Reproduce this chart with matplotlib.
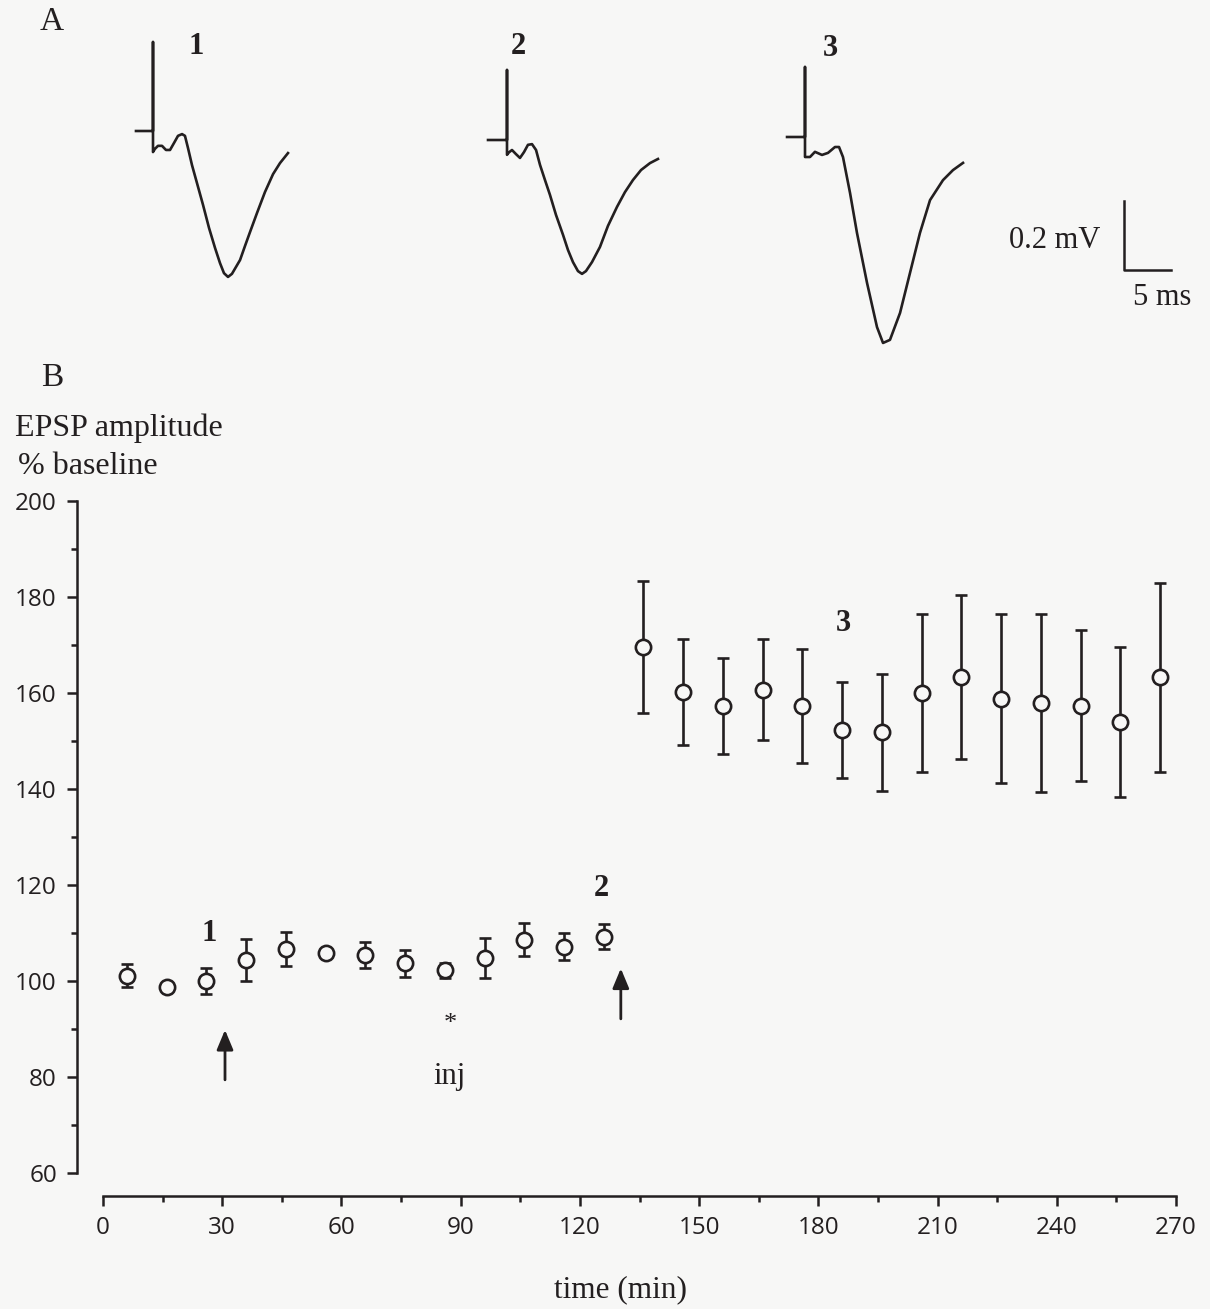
import matplotlib
matplotlib.use("Agg")
import matplotlib.pyplot as plt
import numpy as np

# ---------- Data ----------
# panel B: EPSP amplitude (% baseline) vs time (min)
time_min = [6, 16, 26, 36, 46, 56, 66, 76, 86, 96, 106, 116, 126,
            136, 146, 156, 166, 176, 186, 196, 206, 216, 226, 236, 246, 256, 266]
epsp_mean = [101.1, 98.8, 99.9, 104.4, 106.6, 105.8, 105.3, 103.7, 102.2, 104.8, 108.6, 107.1, 109.2,
             169.5, 160.1, 157.3, 160.6, 157.2, 152.3, 151.8, 160.0, 163.3, 158.8, 157.9, 157.3, 153.9, 163.2]
epsp_sem = [2.4, 0.8, 2.7, 4.4, 3.5, 0.9, 2.7, 2.8, 1.6, 4.2, 3.5, 2.8, 2.6,
            13.7, 11.0, 10.0, 10.5, 11.9, 10.0, 12.2, 16.5, 17.0, 17.6, 18.6, 15.7, 15.6, 19.6]

# panel A: example field EPSP traces (ms, mV relative to baseline)
trace1_t = [-1.81, 0.0, 0.0, 0.0, 0.2, 0.53, 0.96, 1.38, 1.81, 2.23, 2.66, 3.09, 3.40, 3.72, 4.15,
            4.68, 5.32, 5.96, 6.60, 7.13, 7.55, 7.98, 8.40, 8.83, 9.26, 9.79, 10.32, 11.06, 11.91,
            12.77, 13.51, 14.36]
trace1_v = [0.0, 0.0, 0.258, -0.061, -0.052, -0.043, -0.043, -0.055, -0.055, -0.035, -0.014, -0.009,
            -0.014, -0.049, -0.099, -0.151, -0.214, -0.281, -0.339, -0.383, -0.412, -0.423, -0.414,
            -0.394, -0.374, -0.333, -0.293, -0.238, -0.177, -0.125, -0.093, -0.064]
trace2_t = [-2.02, 0.0, 0.0, 0.0, 0.2, 0.53, 0.96, 1.38, 1.81, 2.23, 2.66, 3.09, 3.51, 4.04, 4.57,
            5.21, 5.96, 6.49, 7.02, 7.55, 7.98, 8.40, 9.04, 9.89, 10.74, 11.70, 12.55, 13.40, 14.26,
            15.21, 16.06]
trace2_v = [0.0, 0.0, 0.203, -0.043, -0.036, -0.029, -0.041, -0.052, -0.035, -0.014, -0.012, -0.029,
            -0.072, -0.116, -0.159, -0.217, -0.275, -0.319, -0.354, -0.380, -0.388, -0.380, -0.354,
            -0.310, -0.249, -0.194, -0.151, -0.116, -0.087, -0.067, -0.055]
trace3_t = [-1.91, 0.0, 0.0, 0.0, 0.2, 0.53, 1.06, 1.81, 2.45, 3.19, 3.62, 4.04, 4.79, 5.53, 6.60,
            7.66, 8.30, 9.04, 10.11, 11.17, 12.23, 13.30, 14.68, 15.74, 16.81]
trace3_v = [0.0, 0.0, 0.203, -0.058, -0.058, -0.058, -0.043, -0.052, -0.046, -0.029, -0.029, -0.058,
            -0.162, -0.278, -0.423, -0.551, -0.597, -0.588, -0.510, -0.394, -0.278, -0.183, -0.125,
            -0.096, -0.075]
trace_labels = ["1", "2", "3"]

x_ticks = [0, 30, 60, 90, 120, 150, 180, 210, 240, 270]
y_ticks = [60, 80, 100, 120, 140, 160, 180, 200]

# ---------- Style ----------
W, H = 1210, 1309
ink = "#231f20"
bg = "#f7f7f6"
serif = ["Liberation Serif", "DejaVu Serif"]
sans = ["Open Sans", "DejaVu Sans"]

fig = plt.figure(figsize=(W / 100, H / 100), dpi=100, facecolor=bg)

# ---------- Panel A ----------
px_per_ms = 9.4
px_per_mv = 345.0
top_h = 360
ax_a = fig.add_axes([0, 1 - top_h / H, 1, top_h / H])
ax_a.set_xlim(0, W / px_per_ms)
ax_a.set_ylim(-top_h / px_per_mv, 0)
ax_a.axis("off")

# trace origins (artifact x, baseline y) in pixels of the figure
origins = [(153, 131), (507, 140), (805, 137)]
label_pos = [(196, 47), (518, 47), (830, 48)]
traces = [(trace1_t, trace1_v), (trace2_t, trace2_v), (trace3_t, trace3_v)]
for (tt, vv), (ox, oy), lab, (lx, ly) in zip(traces, origins, trace_labels, label_pos):
    t = np.array(tt) + ox / px_per_ms
    v = np.array(vv) - oy / px_per_mv
    ax_a.plot(t, v, color=ink, lw=1.9, solid_joinstyle="round")
    ax_a.text(lx / px_per_ms, -ly / px_per_mv, lab, fontsize=22, fontweight="bold",
              family=serif, color=ink, ha="center", va="center")

# scale bar: 5 ms, 0.2 mV
sb_x, sb_y = 1124 / px_per_ms, -270 / px_per_mv
ax_a.plot([sb_x, sb_x, sb_x + 5], [sb_y + 0.2, sb_y, sb_y], color=ink, lw=1.8)
ax_a.text(1100 / px_per_ms, -240 / px_per_mv, "0.2 mV", fontsize=22, family=serif,
          color=ink, ha="right", va="center")
ax_a.text(1162 / px_per_ms, -297 / px_per_mv, "5 ms", fontsize=22, family=serif,
          color=ink, ha="center", va="center")

fig.text(52 / W, 1 - 22 / H, "A", fontsize=24, family=serif, color=ink, ha="center", va="center")
fig.text(52 / W, 1 - 378 / H, "B", fontsize=24, family=serif, color=ink, ha="center", va="center")

# ---------- Panel B ----------
x0, x1 = 103, 1176
y_top, y_bot = 500.7, 1173
ax = fig.add_axes([x0 / W, 1 - y_bot / H, (x1 - x0) / W, (y_bot - y_top) / H])
ax.set_facecolor("none")
ax.set_xlim(0, 270)
ax.set_ylim(60, 200)

ax.errorbar(time_min, epsp_mean, yerr=epsp_sem, fmt="o", ms=11, mfc=bg, mec=ink, mew=1.9,
            ecolor=ink, elinewidth=1.9, capsize=4.6, capthick=1.9, color=ink, zorder=3)

for s in ["top", "right"]:
    ax.spines[s].set_visible(False)
ax.spines["left"].set_position(("outward", 18.7))
ax.spines["bottom"].set_position(("outward", 16.5))
for s in ["left", "bottom"]:
    ax.spines[s].set_linewidth(1.8)
    ax.spines[s].set_color(ink)

ax.set_xticks(x_ticks)
ax.set_xticks(np.arange(15, 270, 30), minor=True)
ax.set_yticks(y_ticks)
ax.set_yticks(np.arange(70, 200, 20), minor=True)
ax.tick_params(which="major", length=7.5, width=1.8, color=ink, labelcolor=ink,
               labelsize=17.5, pad=7)
ax.tick_params(which="minor", length=4.3, width=1.8, color=ink)
for lbl in ax.get_xticklabels() + ax.get_yticklabels():
    lbl.set_family(sans)

# annotations
arrow_kw = dict(arrowstyle="-|>,head_length=1.2,head_width=0.5", lw=2.0, color=ink,
                shrinkA=0, shrinkB=0)
ax.annotate("", xy=(30.7, 89.8), xytext=(30.7, 79.4), arrowprops=arrow_kw)
ax.annotate("", xy=(130.3, 102.6), xytext=(130.3, 92.1), arrowprops=arrow_kw)
ax.text(26.7, 109.8, "1", fontsize=22, fontweight="bold", family=serif, color=ink,
        ha="center", va="center")
ax.text(125.5, 119.2, "2", fontsize=22, fontweight="bold", family=serif, color=ink,
        ha="center", va="center")
ax.text(186.2, 174.4, "3", fontsize=22, fontweight="bold", family=serif, color=ink,
        ha="center", va="center")
ax.text(87.3, 91.0, "*", fontsize=19, family=serif, color=ink, ha="center", va="center")
ax.text(87.3, 80.0, "inj", fontsize=22, family=serif, color=ink, ha="center", va="center")

fig.text(15 / W, 1 - 428 / H, "EPSP amplitude", fontsize=23, family=serif, color=ink,
         ha="left", va="center")
fig.text(18 / W, 1 - 467 / H, "% baseline", fontsize=23, family=serif, color=ink,
         ha="left", va="center")
fig.text(621 / W, 1 - 1290 / H, "time (min)", fontsize=22.5, family=serif, color=ink,
         ha="center", va="center")

fig.savefig("out.png", dpi=100, facecolor=bg)
